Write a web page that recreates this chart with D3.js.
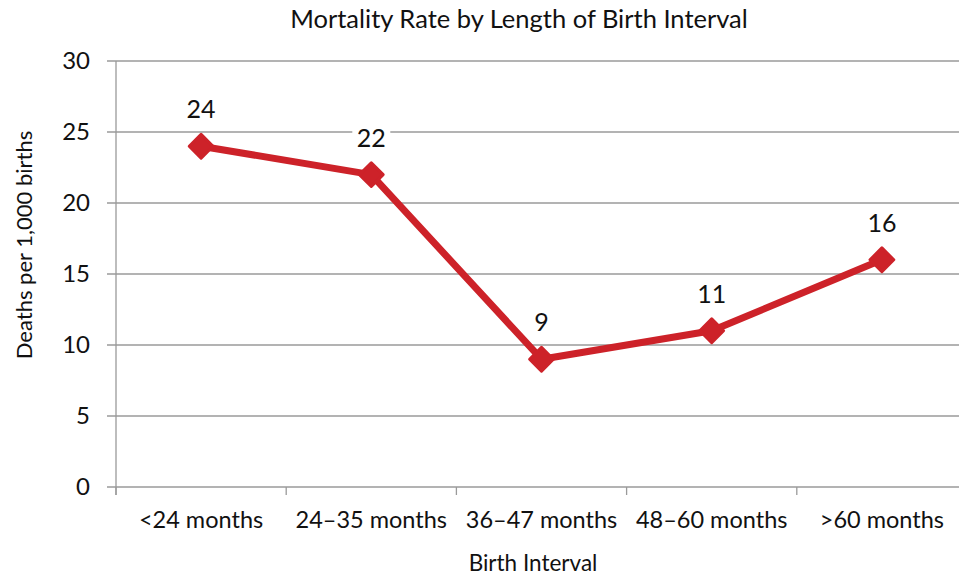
<!DOCTYPE html>
<html>
<head>
<meta charset="utf-8">
<script src="https://cdn.jsdelivr.net/npm/d3@7"></script>
<style>
  body { margin: 0; background: #fff; }
  text { font-family: Lato, "Noto Sans", sans-serif; fill: #111; }
</style>
</head>
<body>
<svg id="chart" width="959" height="575"></svg>
<script>
"use strict";

var intervals = ["<24 months", "24\u201335 months", "36\u201347 months", "48\u201360 months", ">60 months"];
var deaths = [24, 22, 9, 11, 16];
var yTicks = [0, 5, 10, 15, 20, 25, 30];

var lineColor = "#cd2229";
var gridColor = "#9a9a9a";

var svg = d3.select("#chart");

var x = d3.scaleBand().domain(intervals).range([116, 967]).paddingInner(0).paddingOuter(0);
var y = d3.scaleLinear().domain([0, 30]).range([487, 61]);

// gridlines
svg.append("g").selectAll("line.grid")
  .data(yTicks)
  .enter().append("line")
  .attr("class", "grid")
  .attr("x1", 107)
  .attr("x2", 967)
  .attr("y1", function (d) { return y(d); })
  .attr("y2", function (d) { return y(d); })
  .style("stroke", gridColor)
  .style("stroke-width", 1.3);

// y axis line
svg.append("line")
  .attr("x1", 116).attr("x2", 116)
  .attr("y1", y(30)).attr("y2", 495)
  .style("stroke", gridColor)
  .style("stroke-width", 1.3);

// x tick marks at band edges
svg.append("g").selectAll("line.xtick")
  .data(intervals)
  .enter().append("line")
  .attr("class", "xtick")
  .attr("x1", function (d) { return x(d); })
  .attr("x2", function (d) { return x(d); })
  .attr("y1", y(0))
  .attr("y2", 495)
  .style("stroke", gridColor)
  .style("stroke-width", 1.3);

// y tick labels
svg.append("g").selectAll("text.ylab")
  .data(yTicks)
  .enter().append("text")
  .attr("class", "ylab")
  .attr("x", 90)
  .attr("y", function (d) { return y(d) + 8; })
  .attr("text-anchor", "end")
  .style("font-size", "24px")
  .text(function (d) { return d; });

// x tick labels
svg.append("g").selectAll("text.xlab")
  .data(intervals)
  .enter().append("text")
  .attr("class", "xlab")
  .attr("x", function (d) { return x(d) + x.bandwidth() / 2; })
  .attr("y", 528)
  .attr("text-anchor", "middle")
  .style("font-size", "23.5px")
  .text(function (d) { return d; });

// line
var line = d3.line()
  .x(function (d, i) { return x(intervals[i]) + x.bandwidth() / 2; })
  .y(function (d) { return y(d); });

svg.append("path")
  .datum(deaths)
  .attr("d", line)
  .style("fill", "none")
  .style("stroke", lineColor)
  .style("stroke-width", 7)
  .style("stroke-linejoin", "round");

// diamond markers
svg.append("g").selectAll("path.marker")
  .data(deaths)
  .enter().append("path")
  .attr("class", "marker")
  .attr("d", d3.symbol().type(d3.symbolDiamond2).size(360))
  .attr("transform", function (d, i) {
    return "translate(" + (x(intervals[i]) + x.bandwidth() / 2) + "," + y(d) + ")";
  })
  .style("fill", lineColor)
  .style("stroke", lineColor)
  .style("stroke-width", 3)
  .style("stroke-linejoin", "round");

// data labels with white backing
var labels = svg.append("g").selectAll("g.dlabel")
  .data(deaths)
  .enter().append("g")
  .attr("class", "dlabel")
  .attr("transform", function (d, i) {
    return "translate(" + (x(intervals[i]) + x.bandwidth() / 2) + "," + (y(d) - 28) + ")";
  });
labels.append("rect")
  .attr("x", function (d) { return d < 10 ? -11 : -19; })
  .attr("y", -22)
  .attr("width", function (d) { return d < 10 ? 22 : 38; })
  .attr("height", 28)
  .style("fill", "#fff");
labels.append("text")
  .attr("text-anchor", "middle")
  .style("font-size", "25px")
  .text(function (d) { return d; });

// titles
svg.append("text")
  .attr("x", 519)
  .attr("y", 28)
  .attr("text-anchor", "middle")
  .style("font-size", "25.5px")
  .text("Mortality Rate by Length of Birth Interval");

svg.append("text")
  .attr("x", 533)
  .attr("y", 571)
  .attr("text-anchor", "middle")
  .style("font-size", "22.5px")
  .text("Birth Interval");

svg.append("text")
  .attr("transform", "translate(32,245) rotate(-90)")
  .attr("text-anchor", "middle")
  .style("font-size", "22px")
  .text("Deaths per 1,000 births");
</script>
</body>
</html>
